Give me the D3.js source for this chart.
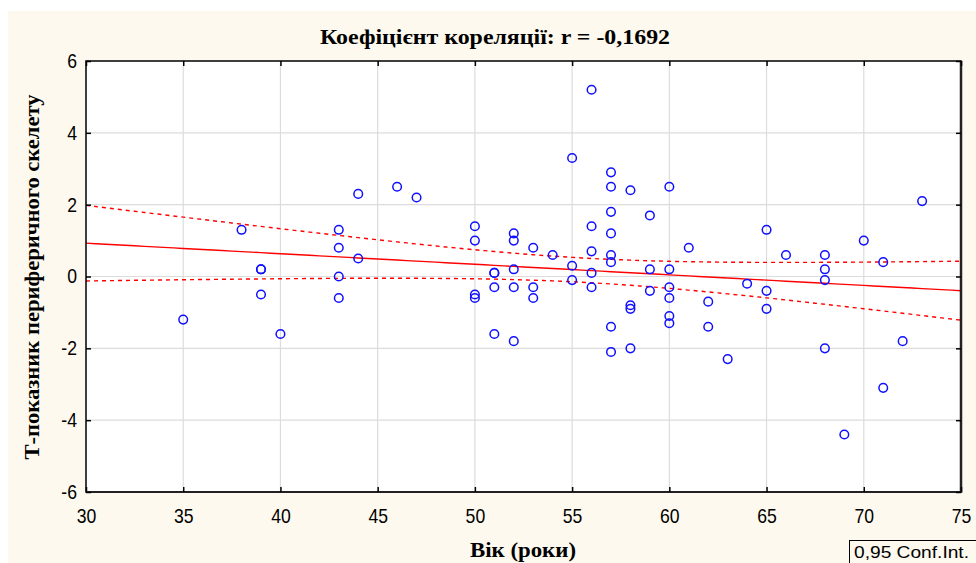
<!DOCTYPE html>
<html><head><meta charset="utf-8">
<script src="https://cdn.jsdelivr.net/npm/d3@7"></script>
<style>body{margin:0;background:#fff;}svg{display:block;}</style>
</head><body>
<svg id="c" width="976" height="563"></svg>
<script>
const ages = [35,38,39,39,39,40,43,43,43,43,44,44,46,47,50,50,50,50,51,51,51,51,52,52,52,52,52,53,53,53,54,55,55,55,56,56,56,56,56,57,57,57,57,57,57,57,57,58,58,58,58,59,59,59,60,60,60,60,60,60,61,62,62,63,64,65,65,65,66,68,68,68,68,69,70,71,71,72,73];
const tScores = [-1.2,1.3,0.2,0.2,-0.5,-1.6,1.3,0.8,0,-0.6,2.3,0.5,2.5,2.2,1.4,1.0,-0.5,-0.6,0.1,0.1,-0.3,-1.6,1.2,1.0,0.2,-0.3,-1.8,0.8,-0.3,-0.6,0.6,3.3,0.3,-0.1,5.2,1.4,0.7,0.1,-0.3,2.9,2.5,1.8,1.2,0.6,0.4,-1.4,-2.1,2.4,-0.8,-0.9,-2.0,1.7,0.2,-0.4,2.5,0.2,-0.3,-0.6,-1.1,-1.3,0.8,-0.7,-1.4,-2.3,-0.2,1.3,-0.4,-0.9,0.6,0.6,0.2,-0.1,-2.0,-4.4,1.0,0.4,-3.1,-1.8,2.1];
const xTicks = [30,35,40,45,50,55,60,65,70,75];
const yTicks = [-6,-4,-2,0,2,4,6];
const titleText = "Коефіцієнт кореляції: r = -0,1692";
const xTitle = "Вік (роки)";
const yTitle = "Т-показник периферичного скелету";
const legendText = "0,95 Conf.Int.";

const svg = d3.select("#c");
const L=86, R=961, T=61, B=492;
const x = d3.scaleLinear().domain([30,75]).range([L,R]);
const y = d3.scaleLinear().domain([-6,6]).range([B,T]);

svg.append("rect").attr("x",8).attr("y",11).attr("width",968).attr("height",552).attr("fill","#fdf9ee");
svg.append("rect").attr("x",L).attr("y",T).attr("width",R-L).attr("height",B-T).attr("fill","#fff");

// grid
const g = svg.append("g");
g.selectAll(".gx").data(xTicks.slice(1,-1)).join("line")
  .attr("x1",d=>x(d)).attr("x2",d=>x(d)).attr("y1",T).attr("y2",B)
  .attr("stroke","#dcdcdc").attr("stroke-width",1.2);
g.selectAll(".gy").data(yTicks.slice(1,-1)).join("line")
  .attr("y1",d=>y(d)).attr("y2",d=>y(d)).attr("x1",L).attr("x2",R)
  .attr("stroke","#dcdcdc").attr("stroke-width",1.2);

// regression + CI
const n = ages.length;
const mx = d3.mean(ages), my = d3.mean(tScores);
let sxx=0, sxy=0;
for(let i=0;i<n;i++){sxx+=(ages[i]-mx)**2; sxy+=(ages[i]-mx)*(tScores[i]-my);}
const b = sxy/sxx, a = my - b*mx;
let sse=0; for(let i=0;i<n;i++){sse+=(tScores[i]-a-b*ages[i])**2;}
const s = Math.sqrt(sse/(n-2));
const tcrit = 1.991;
const xs = d3.range(30,75.01,0.5);
const fit = xs.map(v=>[v,a+b*v]);
const half = v=>tcrit*s*Math.sqrt(1/n+(v-mx)**2/sxx);
const up = xs.map(v=>[v,a+b*v+half(v)]);
const lo = xs.map(v=>[v,a+b*v-half(v)]);
const line = d3.line().x(d=>x(d[0])).y(d=>y(d[1]));
svg.append("clipPath").attr("id","pc").append("rect").attr("x",L).attr("y",T).attr("width",R-L).attr("height",B-T);
const pl = svg.append("g").attr("clip-path","url(#pc)");
pl.append("path").attr("d",line(fit)).attr("fill","none").attr("stroke","#ff0000").attr("stroke-width",1.4);
[up,lo].forEach(dd=>pl.append("path").attr("d",line(dd)).attr("fill","none").attr("stroke","#ff0000").attr("stroke-width",1.4).attr("stroke-dasharray","4,4"));

// points
pl.selectAll("circle").data(ages.map((v,i)=>[v,tScores[i]])).join("circle")
  .attr("cx",d=>x(d[0])).attr("cy",d=>y(d[1])).attr("r",4.3)
  .attr("fill","none").attr("stroke","#1010ff").attr("stroke-width",1.5);

// frame
svg.append("rect").attr("x",L).attr("y",T).attr("width",R-L).attr("height",B-T).attr("fill","none").attr("stroke","#000").attr("stroke-width",1.5);
svg.append("line").attr("x1",R).attr("x2",R).attr("y1",T).attr("y2",B+1).attr("stroke","#222").attr("stroke-width",2.5);
svg.append("line").attr("x1",L).attr("x2",R).attr("y1",B).attr("y2",B).attr("stroke","#222").attr("stroke-width",2);

// axes with inward ticks
const axB = svg.append("g").attr("transform",`translate(0,${B})`).call(d3.axisBottom(x).tickValues(xTicks).tickSize(-5).tickPadding(17).tickFormat(d3.format("d")));
const axT = svg.append("g").attr("transform",`translate(0,${T})`).call(d3.axisTop(x).tickValues(xTicks).tickSize(-5).tickFormat(""));
const axL = svg.append("g").attr("transform",`translate(${L},0)`).call(d3.axisLeft(y).tickValues(yTicks).tickSize(-5).tickPadding(10).tickFormat(d=>d<0?"-"+Math.abs(d):d));
const axR = svg.append("g").attr("transform",`translate(${R},0)`).call(d3.axisRight(y).tickValues(yTicks).tickSize(-5).tickFormat(""));
[axB,axT,axL,axR].forEach(ax=>{ax.select(".domain").remove(); ax.selectAll("line").attr("stroke","#000").attr("stroke-width",1.5);});
[axB,axL].forEach(ax=>ax.selectAll("text").attr("font-family","Liberation Sans, Arial, sans-serif").attr("font-size",20).attr("fill","#000"));
axB.selectAll("text").attr("transform","scale(0.88,1)");
axL.selectAll("text").attr("transform","scale(0.88,1)").attr("x",-9/0.88);

// titles
svg.append("text").attr("x",495).attr("y",44).attr("text-anchor","middle")
  .attr("font-family","Liberation Serif, Times New Roman, serif").attr("font-weight","bold").attr("font-size",20)
  .attr("textLength",350).attr("lengthAdjust","spacingAndGlyphs").text(titleText);
svg.append("text").attr("x",523).attr("y",557).attr("text-anchor","middle")
  .attr("font-family","Liberation Serif, Times New Roman, serif").attr("font-weight","bold").attr("font-size",20)
  .attr("textLength",106).attr("lengthAdjust","spacingAndGlyphs").text(xTitle);
svg.append("text").attr("transform","translate(39,277) rotate(-90)").attr("text-anchor","middle")
  .attr("font-family","Liberation Serif, Times New Roman, serif").attr("font-weight","bold").attr("font-size",20)
  .attr("textLength",365).attr("lengthAdjust","spacingAndGlyphs").text(yTitle);

// legend box
svg.append("rect").attr("x",849.5).attr("y",540.5).attr("width",130).attr("height",30).attr("fill","none").attr("stroke","#000").attr("stroke-width",1);
svg.append("text").attr("x",854).attr("y",558).attr("font-family","Liberation Sans, Arial, sans-serif").attr("font-size",16)
  .attr("textLength",115).attr("lengthAdjust","spacingAndGlyphs").text(legendText);
</script>
</body></html>
